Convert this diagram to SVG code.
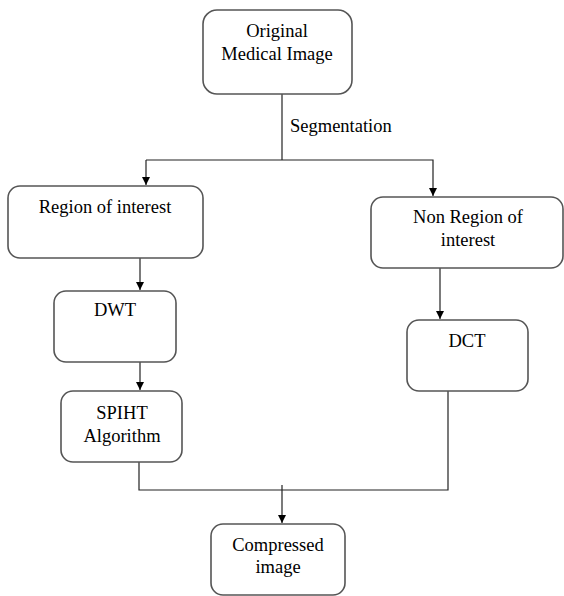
<svg xmlns="http://www.w3.org/2000/svg" width="564" height="596" viewBox="0 0 564 596">
<style>
.box{fill:#fff;stroke:#555;stroke-width:1.6}
.t{font-family:'Liberation Serif','DejaVu Serif','Times New Roman',serif;font-size:18.5px;fill:#000;text-anchor:middle}
.c{fill:none;stroke:#222;stroke-width:1.2}
</style>
<defs>
<marker id="ah" viewBox="0 0 10 10" refX="10" refY="5" markerWidth="8" markerHeight="9" markerUnits="userSpaceOnUse" orient="auto">
<path d="M0,0 L10,5 L0,10 z" fill="#000"/>
</marker>
</defs>
<rect width="564" height="596" fill="#fff"/>
<g id="connectors">
<line class="c" x1="282" y1="94" x2="282" y2="160"/>
<polyline class="c" points="146,160 433,160 433,196" marker-end="url(#ah)"/>
<line class="c" x1="146" y1="160" x2="146" y2="185" marker-end="url(#ah)"/>
<line class="c" x1="140" y1="258" x2="140" y2="290" marker-end="url(#ah)"/>
<line class="c" x1="140" y1="362" x2="140" y2="390" marker-end="url(#ah)"/>
<line class="c" x1="440" y1="268" x2="440" y2="319" marker-end="url(#ah)"/>
<polyline class="c" points="139,462 139,490 448,490 448,391"/>
<line class="c" x1="282" y1="485" x2="282" y2="523" marker-end="url(#ah)"/>
<text class="t" x="290" y="132" text-anchor="start" style="text-anchor:start">Segmentation</text>
</g>
<g id="original">
<rect class="box" x="203" y="10" width="149" height="84" rx="14"/>
<text class="t" x="277" y="37">Original</text>
<text class="t" x="277" y="60">Medical Image</text>
</g>
<g id="roi">
<rect class="box" x="8" y="186" width="195" height="72" rx="12"/>
<text class="t" x="105" y="213">Region of interest</text>
</g>
<g id="dwt">
<rect class="box" x="54" y="291" width="122" height="71" rx="12"/>
<text class="t" x="115" y="316">DWT</text>
</g>
<g id="spiht">
<rect class="box" x="61" y="391" width="121" height="71" rx="12"/>
<text class="t" x="122" y="419">SPIHT</text>
<text class="t" x="122" y="442">Algorithm</text>
</g>
<g id="nonroi">
<rect class="box" x="371" y="197" width="192" height="71" rx="12"/>
<text class="t" x="468" y="223">Non Region of</text>
<text class="t" x="468" y="246">interest</text>
</g>
<g id="dct">
<rect class="box" x="407" y="320" width="121" height="71" rx="12"/>
<text class="t" x="467" y="347">DCT</text>
</g>
<g id="compressed">
<rect class="box" x="211" y="524" width="134" height="71" rx="12"/>
<text class="t" x="278" y="551">Compressed</text>
<text class="t" x="278" y="573">image</text>
</g>
</svg>
